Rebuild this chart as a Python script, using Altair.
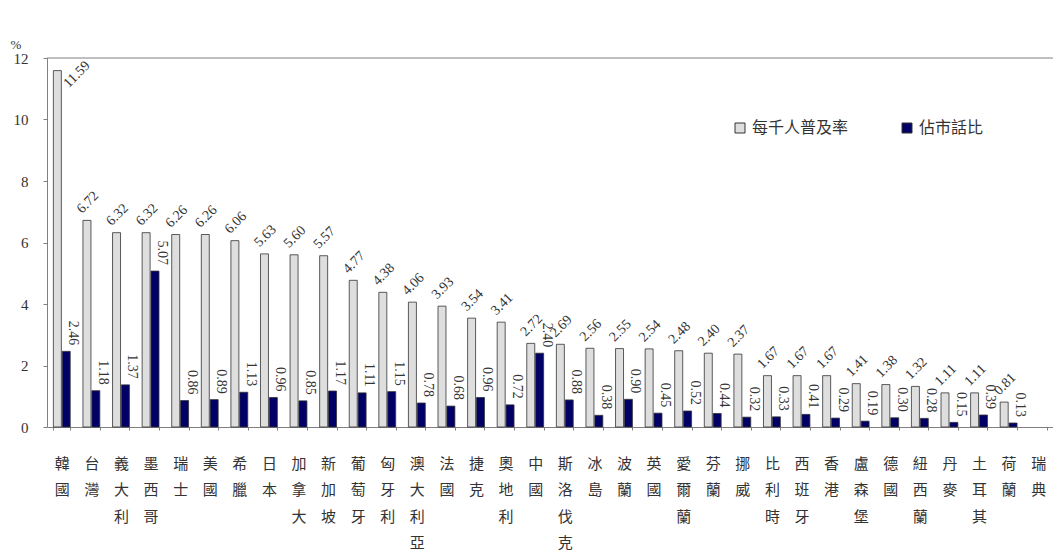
import altair as alt
import pandas as pd

categories = ["韓國", "台灣", "義大利", "墨西哥", "瑞士", "美國", "希臘", "日本", "加拿大", "新加坡",
              "葡萄牙", "匈牙利", "澳大利亞", "法國", "捷克", "奧地利", "中國", "斯洛伐克", "冰島", "波蘭",
              "英國", "愛爾蘭", "芬蘭", "挪威", "比利時", "西班牙", "香港", "盧森堡", "德國", "紐西蘭",
              "丹麥", "土耳其", "荷蘭", "瑞典"]
per_thousand = [11.59, 6.72, 6.32, 6.32, 6.26, 6.26, 6.06, 5.63, 5.60, 5.57,
                4.77, 4.38, 4.06, 3.93, 3.54, 3.41, 2.72, 2.69, 2.56, 2.55,
                2.54, 2.48, 2.40, 2.37, 1.67, 1.67, 1.67, 1.41, 1.38, 1.32,
                1.11, 1.11, 0.81]
landline_ratio = [2.46, 1.18, 1.37, 5.07, 0.86, 0.89, 1.13, 0.96, 0.85, 1.17,
                  1.11, 1.15, 0.78, 0.68, 0.96, 0.72, 2.40, 0.88, 0.38, 0.90,
                  0.45, 0.52, 0.44, 0.32, 0.33, 0.41, 0.29, 0.19, 0.30, 0.28,
                  0.15, 0.39, 0.13]
series = ["每千人普及率", "佔市話比"]
y_ticks = [0, 2, 4, 6, 8, 10, 12]

rows = []
for i, v in enumerate(per_thousand):
    rows.append({"country": categories[i], "series": series[0], "value": v})
for i, v in enumerate(landline_ratio):
    rows.append({"country": categories[i], "series": series[1], "value": v})
df = pd.DataFrame(rows)

W, H = 1006, 369
SERIF = "Liberation Serif"
CJK = "Noto Sans CJK TC"

x = alt.X("country:N",
          scale=alt.Scale(domain=categories, paddingInner=0.43, paddingOuter=0.215),
          axis=alt.Axis(title=None, labelAngle=0, labelExpr="split(datum.label, '')",
                        labelFont=CJK, labelFontSize=15, labelLineHeight=26.5,
                        labelPadding=26, labelColor="#333", labelOverlap=False,
                        tickBand="extent", tickSize=3, tickColor="#808080",
                        domainColor="#808080", labelBaseline="top"))
xo = alt.XOffset("series:N", scale=alt.Scale(domain=series, paddingInner=0.1))
y = alt.Y("value:Q", scale=alt.Scale(domain=[0, 12], nice=False),
          axis=alt.Axis(values=y_ticks, grid=False, title="%", titleAngle=0,
                        titleX=-37, titleY=-14, titleAlign="left", titleBaseline="middle",
                        titleFont=SERIF, titleFontSize=13, titleFontWeight="normal",
                        titleColor="#333", labelFont=SERIF, labelFontSize=15,
                        labelColor="#333", labelPadding=15, tickSize=4,
                        tickColor="#808080", domainColor="#808080"))
color = alt.Color("series:N",
                  scale=alt.Scale(domain=series, range=["#dedede", "#000066"]),
                  legend=alt.Legend(title=None, orient="none", legendX=685, legendY=62,
                                    direction="horizontal", symbolType="square",
                                    symbolSize=100, symbolStrokeColor="#333",
                                    symbolStrokeWidth=1, labelFont=CJK, labelFontSize=16,
                                    labelColor="#333", columnPadding=50))

base = alt.Chart(df)
bars = base.mark_bar(stroke="#333", strokeWidth=0.8).encode(x=x, xOffset=xo, y=y, color=color)

light_text = base.transform_filter(
    (alt.datum.series == series[0]) & (alt.datum.value <= 10)
).mark_text(
    angle=315, align="left", baseline="bottom", dx=1, dy=-5,
    font=SERIF, fontSize=14, color="#333"
).encode(x=x, xOffset=xo, y=y, text=alt.Text("value:Q", format=".2f"))

light_text_top = base.transform_filter(
    (alt.datum.series == series[0]) & (alt.datum.value > 10)
).mark_text(
    angle=315, align="left", baseline="bottom", dx=-4.5, dy=23.5,
    font=SERIF, fontSize=14, color="#333"
).encode(x=x, xOffset=xo, y=y, text=alt.Text("value:Q", format=".2f"))

dark_text = base.transform_filter(alt.datum.series == series[1]).mark_text(
    angle=90, align="right", baseline="middle", dx=-6, dy=-7,
    font=SERIF, fontSize=14, color="#333"
).encode(x=x, xOffset=xo, y=y, text=alt.Text("value:Q", format=".2f"))

top_line = alt.Chart(pd.DataFrame({"a": [0]})).mark_rule(color="#808080").encode(
    x=alt.value(0), x2=alt.value(W), y=alt.value(0))

chart = alt.layer(bars, light_text, light_text_top, dark_text, top_line).properties(
    width=W, height=H,
    autosize=alt.AutoSizeParams(type="none"),
    padding={"left": 39, "top": 50, "right": 0, "bottom": 124},
).configure_view(stroke=None)

chart.save("out.html", embed_options={"renderer": "svg", "actions": False})
